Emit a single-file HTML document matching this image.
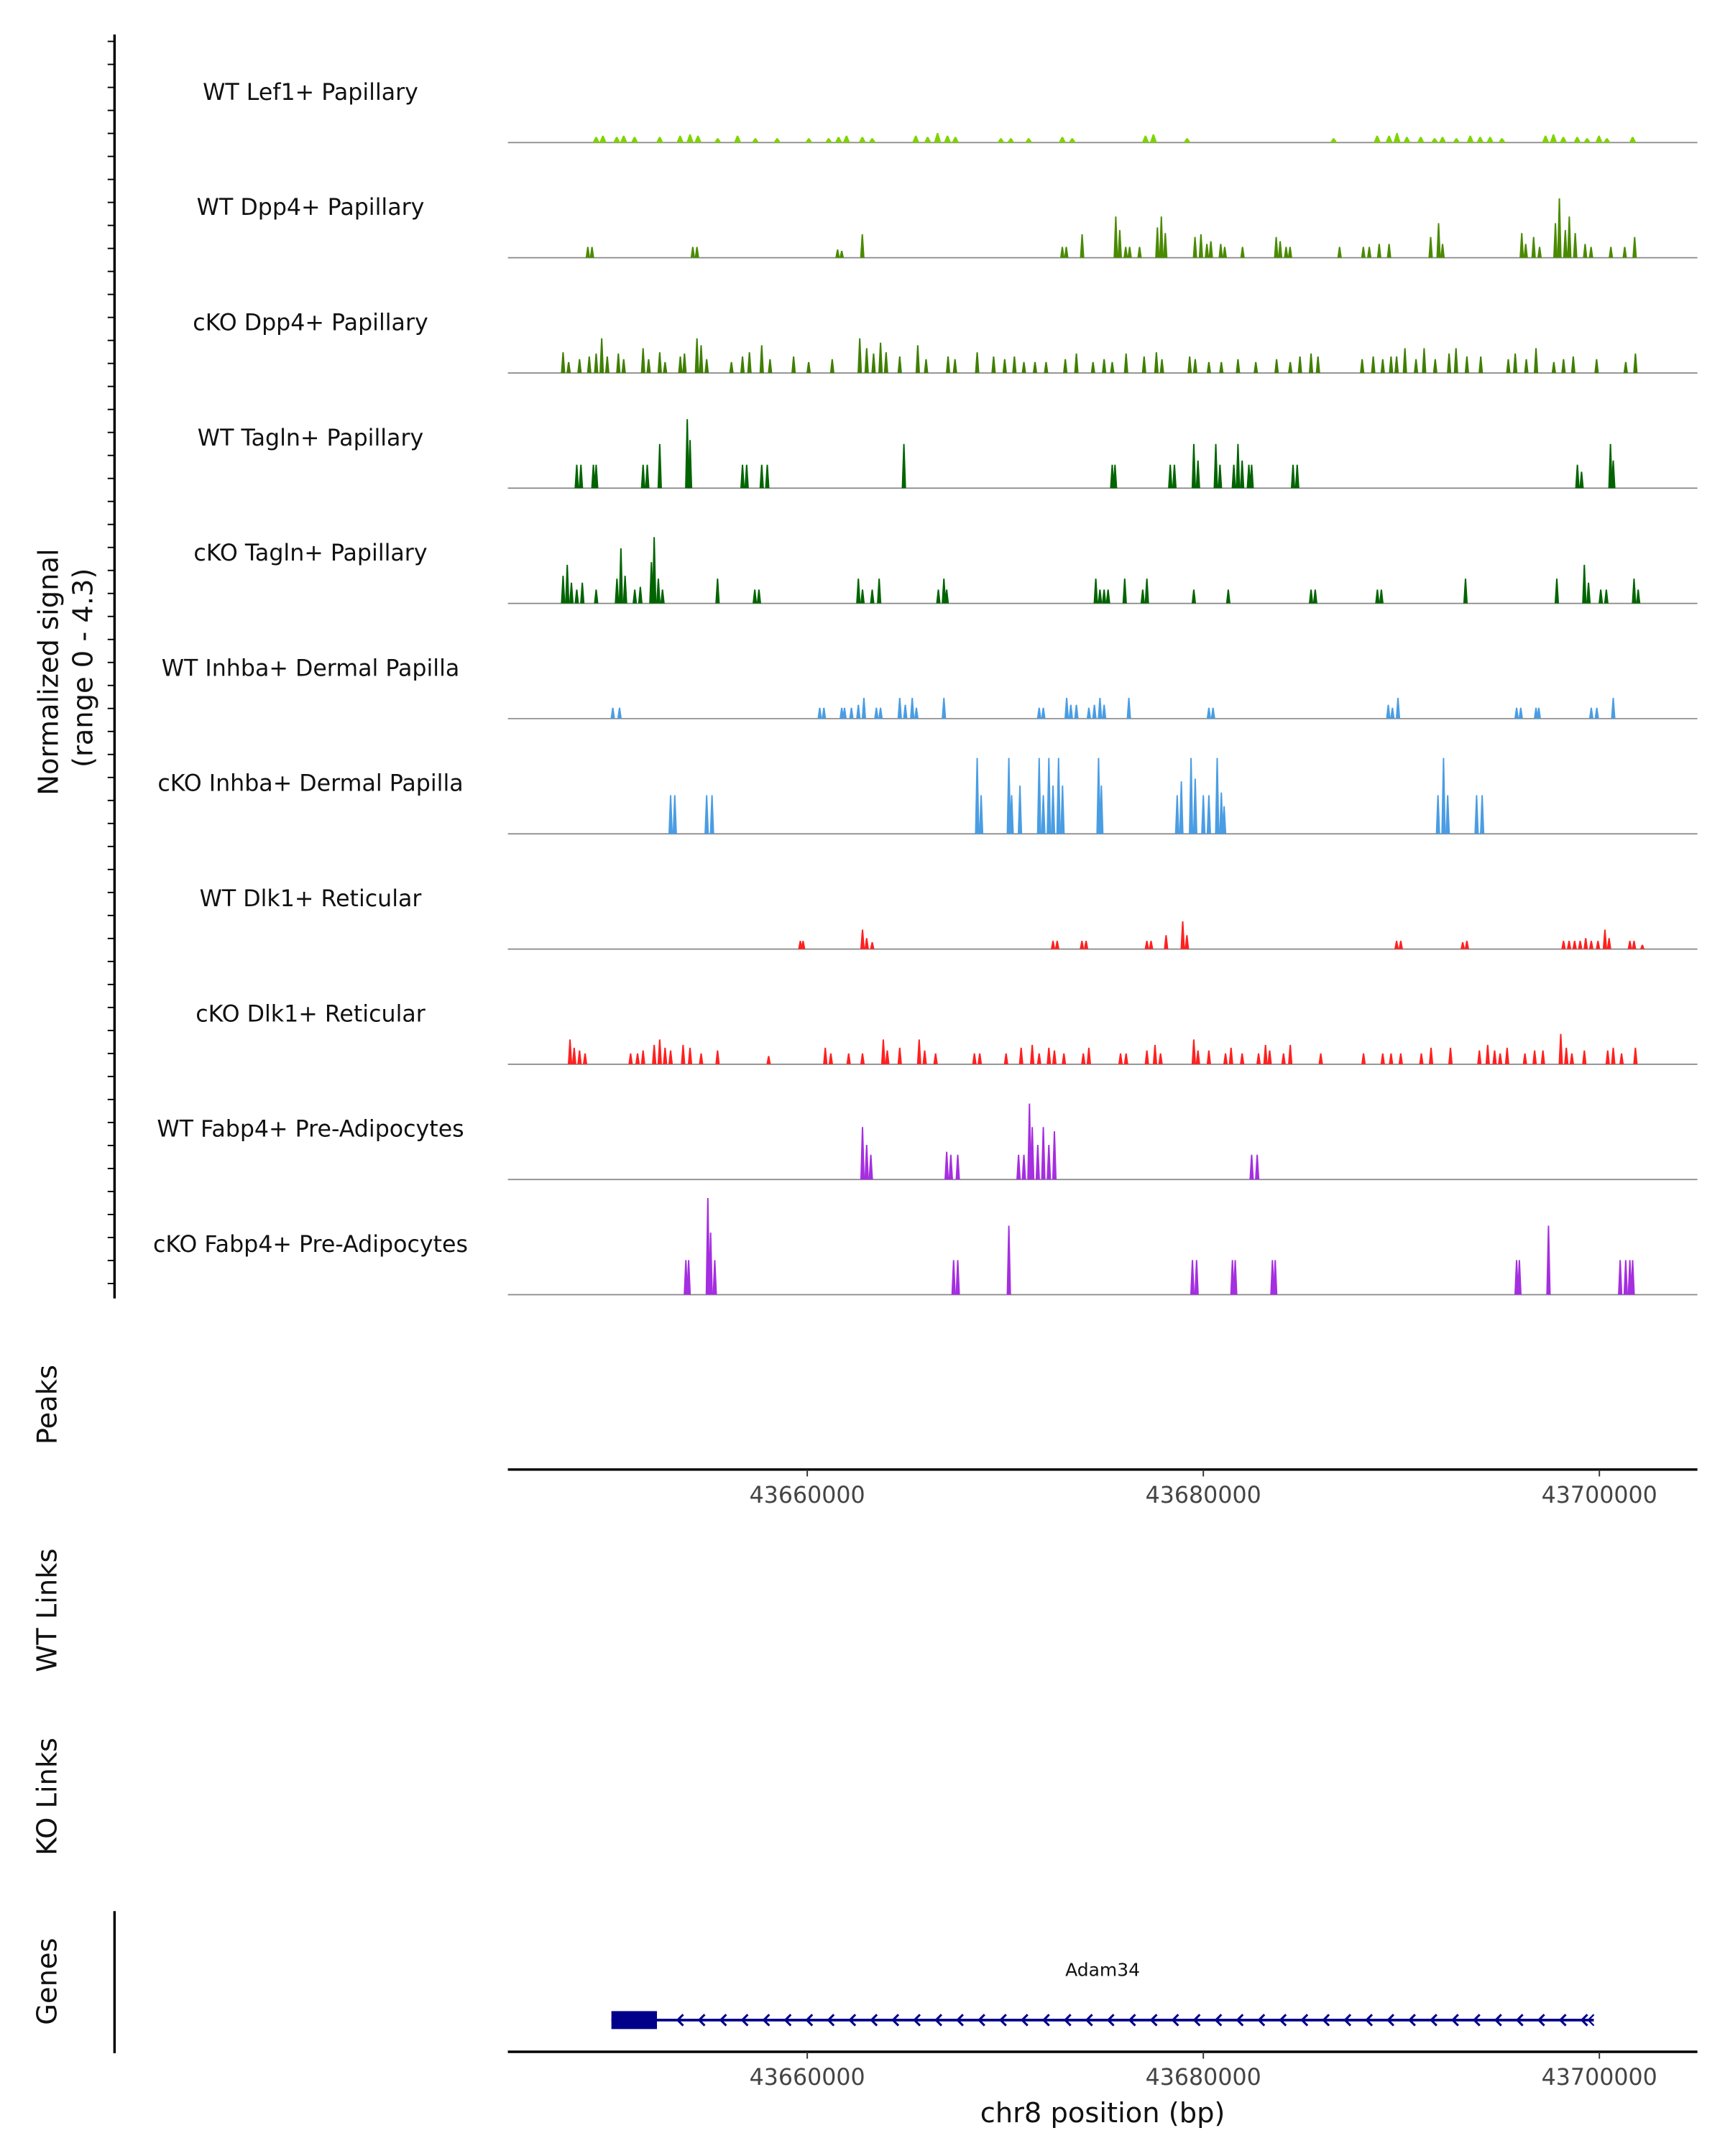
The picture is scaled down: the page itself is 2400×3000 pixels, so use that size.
<!DOCTYPE html>
<html><head><meta charset="utf-8">
<style>
html,body{margin:0;padding:0;background:#fff;}
svg{display:block;font-family:"DejaVu Sans","Liberation Sans",sans-serif;}
</style></head>
<body>
<svg id="chart" width="2400" height="3000" viewBox="0 0 1250 1562.5" xmlns="http://www.w3.org/2000/svg">
<rect width="1250" height="1562.5" fill="#fff"/>
<g id="tracks"></g>
<g id="leftaxis"></g>
<text transform="translate(42,487) rotate(-90)" text-anchor="middle" font-size="20" fill="#111">Normalized signal</text>
<text transform="translate(67,484) rotate(-90)" text-anchor="middle" font-size="20" fill="#111">(range 0 - 4.3)</text>
<text transform="translate(41,1018) rotate(-90)" text-anchor="middle" font-size="20" fill="#111">Peaks</text>
<text transform="translate(41,1167) rotate(-90)" text-anchor="middle" font-size="20" fill="#111">WT Links</text>
<text transform="translate(41,1302) rotate(-90)" text-anchor="middle" font-size="20" fill="#111">KO Links</text>
<text transform="translate(41,1436) rotate(-90)" text-anchor="middle" font-size="20" fill="#111">Genes</text>
<line x1="83" y1="1385" x2="83" y2="1488" stroke="#000" stroke-width="1.8"/>
<g id="axes"></g>
<g id="gene"></g>
<text x="799" y="1538" text-anchor="middle" font-size="20" fill="#111">chr8 position (bp)</text>
</svg>
<script>
// ---- data ----
const regionStart = 43644880; // bp at left edge
const maxSignal = 4.3;
const trackNames = ["WT Lef1+ Papillary","WT Dpp4+ Papillary","cKO Dpp4+ Papillary","WT Tagln+ Papillary","cKO Tagln+ Papillary","WT Inhba+ Dermal Papilla","cKO Inhba+ Dermal Papilla","WT Dlk1+ Reticular","cKO Dlk1+ Reticular","WT Fabp4+ Pre-Adipocytes","cKO Fabp4+ Pre-Adipocytes"];
const trackColors = ["#7fd400","#4a8a00","#3f7f00","#006400","#006400","#4a9de3","#4a9de3","#ff2020","#ff2020","#a52ee0","#a52ee0"];
// peak positions: kb from regionStart ; values: normalized signal
const pos0 = [4.46,4.8,5.5,5.85,6.4,7.67,8.7,9.2,9.6,10.6,11.6,12.5,13.6,15.2,16.2,16.7,17.1,17.9,18.4,20.6,21.2,21.7,22.2,22.6,24.9,25.4,26.3,28.0,28.5,32.2,32.6,34.3,41.7,43.9,44.5,44.9,45.4,46.1,46.8,47.2,47.9,48.6,49.1,49.6,50.2,52.4,52.8,53.3,54.0,54.5,55.1,55.5,56.8];
const val0 = [0.21,0.26,0.21,0.26,0.21,0.21,0.26,0.31,0.26,0.16,0.26,0.16,0.16,0.16,0.16,0.21,0.26,0.21,0.16,0.26,0.21,0.36,0.26,0.21,0.16,0.16,0.16,0.21,0.16,0.26,0.31,0.16,0.16,0.26,0.26,0.36,0.21,0.21,0.16,0.21,0.16,0.26,0.21,0.21,0.16,0.26,0.31,0.21,0.21,0.16,0.26,0.16,0.21];
const pos1 = [4.04,4.25,9.34,9.55,16.65,16.86,17.9,28.0,28.2,29.0,30.7,30.9,31.2,31.4,31.9,32.8,33.0,33.2,34.7,35.0,35.3,35.5,36.0,36.2,37.1,38.8,39.0,39.3,39.5,42.0,43.2,43.5,44.0,44.5,46.6,47.0,47.2,51.2,51.4,51.8,52.1,52.9,53.1,53.4,53.6,53.9,54.4,54.7,55.7,56.4,56.9];
const val1 = [0.41,0.41,0.41,0.41,0.31,0.26,0.88,0.41,0.41,0.88,1.55,1.04,0.41,0.41,0.41,1.14,1.55,0.93,0.78,0.88,0.52,0.62,0.52,0.41,0.41,0.78,0.62,0.41,0.41,0.41,0.41,0.41,0.52,0.52,0.78,1.3,0.52,0.93,0.52,0.78,0.41,1.3,2.23,1.04,1.55,0.93,0.52,0.41,0.41,0.41,0.78];
const pos2 = [2.79,3.07,3.62,4.11,4.46,4.74,5.02,5.58,5.85,6.83,7.11,7.67,7.94,8.71,8.92,9.55,9.76,10.04,11.29,11.85,12.2,12.82,13.24,14.43,15.19,16.38,17.77,18.12,18.47,18.82,19.1,19.79,20.7,21.12,22.23,22.58,23.7,24.53,25.09,25.58,26.06,26.62,27.18,28.15,28.71,29.55,30.11,30.52,31.22,32.13,32.75,33.03,34.43,34.71,35.4,36.03,36.87,37.77,38.82,39.51,40.0,40.56,40.91,43.14,43.7,44.18,44.6,44.88,45.3,45.86,46.27,46.83,47.53,47.88,48.43,49.13,50.52,50.87,51.43,51.92,52.82,53.31,53.8,54.98,56.45,56.94];
const val2 = [0.78,0.41,0.52,0.62,0.73,1.3,0.62,0.73,0.52,0.93,0.52,0.78,0.41,0.62,0.73,1.3,1.04,0.52,0.41,0.62,0.78,1.04,0.52,0.62,0.41,0.52,1.3,0.93,0.73,1.14,0.78,0.62,1.04,0.52,0.62,0.52,0.78,0.62,0.52,0.62,0.41,0.41,0.41,0.52,0.73,0.41,0.52,0.41,0.73,0.62,0.78,0.52,0.62,0.52,0.41,0.41,0.52,0.41,0.52,0.41,0.62,0.73,0.62,0.52,0.62,0.52,0.62,0.62,0.93,0.52,0.93,0.52,0.73,0.93,0.62,0.62,0.52,0.73,0.52,0.93,0.41,0.52,0.62,0.52,0.41,0.73];
const pos3 = [3.48,3.69,4.32,4.46,6.83,7.04,7.67,9.06,9.2,11.85,12.06,12.82,13.1,20.0,30.52,30.66,33.45,33.66,34.64,34.85,35.75,35.96,36.66,36.87,37.08,37.42,37.56,39.65,39.86,54.01,54.22,55.68,55.82];
const val3 = [0.88,0.88,0.88,0.88,0.88,0.88,1.66,2.59,1.81,0.88,0.88,0.88,0.88,1.66,0.88,0.88,0.88,0.88,1.66,1.04,1.66,0.88,0.88,1.66,1.04,0.88,0.88,0.88,0.88,0.88,0.62,1.66,1.04];
const pos4 = [2.79,3.0,3.21,3.48,3.76,4.46,5.51,5.71,5.92,6.41,6.69,7.25,7.39,7.6,7.81,10.59,12.47,12.68,17.7,17.91,18.4,18.75,21.74,22.02,22.16,29.69,29.9,30.11,30.31,31.15,32.06,32.27,34.64,36.38,40.56,40.77,43.91,44.11,48.36,52.97,54.36,54.57,55.19,55.47,56.87,57.08];
const val4 = [1.04,1.45,0.78,0.52,0.78,0.52,0.93,2.07,1.04,0.52,0.62,1.55,2.49,0.93,0.52,0.93,0.52,0.52,0.93,0.52,0.52,0.93,0.52,0.93,0.52,0.93,0.52,0.52,0.52,0.93,0.52,0.93,0.52,0.52,0.52,0.52,0.52,0.52,0.93,0.93,1.45,0.78,0.52,0.52,0.93,0.52];
const pos5 = [5.3,5.64,15.75,15.96,16.86,17.0,17.35,17.7,17.98,18.61,18.82,19.79,20.07,20.42,20.63,22.02,26.83,27.04,28.22,28.43,28.71,29.34,29.62,29.9,30.11,31.36,35.4,35.61,44.46,44.67,44.95,50.94,51.15,51.92,52.06,54.71,54.99,55.82];
const val5 = [0.41,0.41,0.41,0.41,0.41,0.41,0.41,0.52,0.78,0.41,0.41,0.78,0.52,0.78,0.41,0.78,0.41,0.41,0.78,0.52,0.52,0.41,0.52,0.78,0.52,0.78,0.41,0.41,0.52,0.41,0.78,0.41,0.41,0.41,0.41,0.41,0.41,0.78];
const pos6 = [8.22,8.43,10.04,10.31,23.7,23.9,25.3,25.44,25.86,26.83,27.04,27.32,27.53,27.81,28.01,29.83,29.97,33.8,34.01,34.5,34.71,35.12,35.4,35.82,36.03,36.17,46.97,47.25,47.46,48.92,49.2];
const val6 = [1.45,1.45,1.45,1.45,2.85,1.45,2.85,1.45,1.81,2.85,1.45,2.85,1.81,2.85,1.81,2.85,1.81,1.45,1.97,2.85,2.07,1.45,1.45,2.85,1.55,1.04,1.45,2.85,1.45,1.45,1.45];
const pos7 = [14.77,14.91,17.91,18.12,18.4,27.53,27.74,28.99,29.2,32.27,32.48,33.24,34.08,34.29,44.88,45.09,48.22,48.43,53.31,53.59,53.87,54.15,54.43,54.71,55.05,55.4,55.61,56.66,56.87,57.29];
const val7 = [0.31,0.31,0.73,0.41,0.26,0.31,0.31,0.31,0.31,0.31,0.31,0.52,1.04,0.52,0.31,0.31,0.26,0.31,0.31,0.31,0.31,0.31,0.41,0.31,0.31,0.73,0.41,0.31,0.31,0.16];
const pos8 = [3.14,3.35,3.62,3.9,6.2,6.55,6.83,7.39,7.67,7.94,8.22,8.85,9.2,9.76,10.59,13.17,16.03,16.31,17.21,17.91,18.96,19.16,19.79,20.77,21.05,21.6,23.56,23.83,25.16,25.92,26.48,26.83,27.32,27.6,28.08,29.06,29.34,30.94,31.22,32.27,32.68,32.96,34.64,34.85,35.4,36.24,36.52,37.08,37.91,38.26,38.47,39.17,39.51,41.05,43.21,44.18,44.6,45.09,46.13,46.62,47.6,49.06,49.48,49.83,50.11,50.46,51.36,51.85,52.27,53.17,53.45,53.73,54.36,55.54,55.82,56.24,56.94];
const val8 = [0.93,0.62,0.52,0.41,0.41,0.41,0.52,0.73,0.93,0.62,0.52,0.73,0.62,0.41,0.52,0.31,0.62,0.41,0.41,0.41,0.93,0.52,0.62,0.93,0.52,0.41,0.41,0.41,0.41,0.62,0.73,0.41,0.62,0.52,0.41,0.41,0.62,0.41,0.41,0.52,0.73,0.41,0.93,0.52,0.52,0.41,0.62,0.41,0.41,0.73,0.52,0.41,0.73,0.41,0.41,0.41,0.41,0.41,0.41,0.62,0.62,0.52,0.73,0.52,0.41,0.62,0.41,0.52,0.52,1.14,0.62,0.41,0.52,0.52,0.62,0.41,0.62];
const pos9 = [17.91,18.12,18.33,22.16,22.37,22.72,25.79,26.06,26.34,26.48,26.76,27.04,27.32,27.6,37.56,37.84];
const val9 = [1.97,1.3,0.93,1.04,0.93,0.93,0.93,0.93,2.85,1.97,1.3,1.97,1.3,1.81,0.93,0.93];
const pos10 = [8.99,9.13,10.1,10.24,10.45,22.51,22.72,25.3,34.57,34.78,36.59,36.73,38.61,38.75,50.94,51.08,52.55,56.17,56.45,56.66,56.8];
const val10 = [1.3,1.3,3.63,2.33,1.3,1.3,1.3,2.59,1.3,1.3,1.3,1.3,1.3,1.3,1.3,1.3,2.59,1.3,1.3,1.3,1.3];
const trackPos = [pos0,pos1,pos2,pos3,pos4,pos5,pos6,pos7,pos8,pos9,pos10];
const trackVal = [val0,val1,val2,val3,val4,val5,val6,val7,val8,val9,val10];
const axisTicks = [43660000, 43680000, 43700000];
const geneName = "Adam34";
const geneStartKb = 5.23, geneEndKb = 54.84, exonStartKb = 5.23, exonEndKb = 7.53;

// ---- scales ----
const X0 = 368, X1 = 1230, PX_PER_KB = 14.35;
const xKb = kb => X0 + kb * PX_PER_KB;
const xBp = bp => xKb((bp - regionStart) / 1000);
const firstBase = 103.3, trackStep = 83.5, trackH = 83;
const yVal = (base, v) => base - (v / maxSignal) * trackH;
const NS = "http://www.w3.org/2000/svg";
function mk(tag, attrs, parent) { const e = document.createElementNS(NS, tag); for (const k in attrs) e.setAttribute(k, attrs[k]); parent.appendChild(e); return e; }

const tracks = document.getElementById('tracks');
trackNames.forEach((name, i) => {
  const base = firstBase + i * trackStep;
  const g = mk('g', {}, tracks);
  
  
  const t = mk('text', {x: 225, y: base - 31, 'text-anchor': 'middle', 'font-size': 16.5, fill: '#111'}, g);
  t.textContent = name;
  
  
  const bl = mk('line', {x1: X0, x2: X1, y1: base, y2: base, stroke: '#888', 'stroke-width': 0.9}, g);
  
  
  const ps = trackPos[i], vs = trackVal[i], col = trackColors[i];
  const w = i === 0 ? 2.6 : 1.6;
  for (let j = 0; j < ps.length; j++) {
    const x = xKb(ps[j]), yt = yVal(base, vs[j]);
    const p = mk('polygon', {points: `${x - w},${base} ${x - 0.5},${yt} ${x + 0.5},${yt} ${x + w},${base}`, fill: col}, g);
    
    
  }
});

// left axis
const la = document.getElementById('leftaxis');
mk('line', {x1: 83, x2: 83, y1: 25, y2: 941, stroke: '#000', 'stroke-width': 1.8}, la);
for (let y = 30; y <= 940; y += 16.67) mk('line', {x1: 78, x2: 83, y1: y, y2: y, stroke: '#000', 'stroke-width': 1}, la);

// x axes
const axes = document.getElementById('axes');
[1065, 1487].forEach((ay, k) => {
  const a = mk('g', {}, axes);
  
  
  mk('line', {x1: X0, x2: X1, y1: ay, y2: ay, stroke: '#000', 'stroke-width': 1.8}, a);
  axisTicks.forEach(tk => {
    const x = xBp(tk);
    mk('line', {x1: x, x2: x, y1: ay, y2: ay + 5, stroke: '#333', 'stroke-width': 1}, a);
    const t = mk('text', {x: x, y: ay + 24, 'text-anchor': 'middle', 'font-size': 16.5, fill: '#444'}, a);
    t.textContent = String(tk);
    
    
  });
});

// gene
const gg = document.getElementById('gene');


const gy = 1464;
const gt = mk('text', {x: (xKb(geneStartKb) + xKb(geneEndKb)) / 2, y: 1432, 'text-anchor': 'middle', 'font-size': 13, fill: '#111'}, gg);
gt.textContent = geneName;
mk('line', {x1: xKb(geneStartKb), x2: xKb(geneEndKb), y1: gy, y2: gy, stroke: '#00008b', 'stroke-width': 2}, gg);
mk('rect', {x: xKb(exonStartKb), y: gy - 6.5, width: xKb(exonEndKb) - xKb(exonStartKb), height: 13, fill: '#00008b'}, gg);
for (let x = xKb(exonEndKb) + 15; x < xKb(geneEndKb) - 4; x += 15.6) {
  mk('polyline', {points: `${x + 4},${gy - 4} ${x},${gy} ${x + 4},${gy + 4}`, fill: 'none', stroke: '#00008b', 'stroke-width': 1.6}, gg);
}
mk('polyline', {points: `${xKb(geneEndKb)},${gy - 4} ${xKb(geneEndKb) - 4},${gy} ${xKb(geneEndKb)},${gy + 4}`, fill: 'none', stroke: '#00008b', 'stroke-width': 1.2}, gg);
</script>
</body></html>
